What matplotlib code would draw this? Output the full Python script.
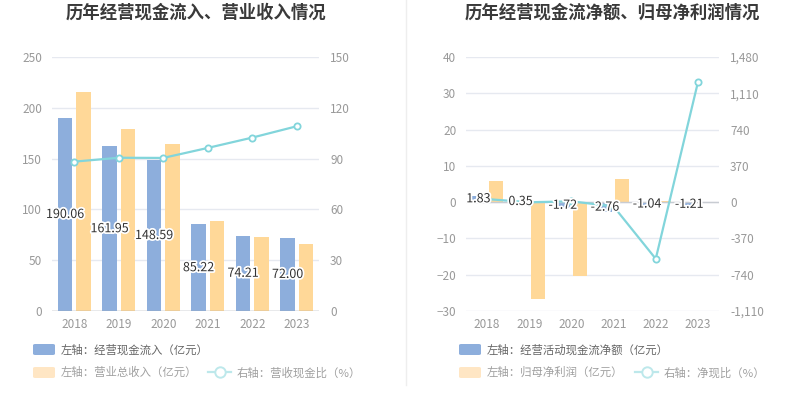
import matplotlib as mpl
mpl.use("Agg")
import matplotlib.pyplot as plt
import matplotlib.patheffects as pe
from matplotlib.patches import FancyBboxPatch
from matplotlib.lines import Line2D
from matplotlib.ticker import FuncFormatter
import numpy as np

plt.rcParams['font.family'] = ['Noto Sans CJK SC', 'DejaVu Sans']

years = ['2018', '2019', '2020', '2021', '2022', '2023']

# left chart
cash_inflow = [190.06, 161.95, 148.59, 85.22, 74.21, 72.00]
revenue = [215.5, 179.0, 164.3, 88.5, 72.5, 66.0]
cash_ratio = [88.2, 90.5, 90.4, 96.3, 102.4, 109.1]
cash_inflow_labels = ['190.06', '161.95', '148.59', '85.22', '74.21', '72.00']

# right chart
net_cash = [1.83, 0.35, -1.72, -2.76, -1.04, -1.21]
net_profit = [5.9, -26.8, -20.4, 6.35, 0.18, -0.10]
net_ratio = [31.0, -1.3, 8.4, -43.5, -578.0, 1222.0]
net_cash_labels = ['1.83', '0.35', '-1.72', '-2.76', '-1.04', '-1.21']

BLUE = "#8DAEDC"
ORANGE = "#FFD898"
ORANGE_LIGHT = "#FFE6C4"
CYAN = "#82D5DB"
GRID = "#E6E9F0"
TICK = "#999999"

W, H = 807, 415
fig = plt.figure(figsize=(W / 100, H / 100), dpi=100)


def fx(x):
    return x / W


def fy(y):
    return 1 - y / H


def style_axes(ax1, ax2, left_ticks, right_ticks, right_fmt=None):
    for ax in (ax1, ax2):
        for s in ax.spines.values():
            s.set_visible(False)
    ax1.set_yticks(left_ticks)
    ax1.set_ylim(left_ticks[0], left_ticks[-1])
    ax2.set_yticks(right_ticks)
    ax2.set_ylim(right_ticks[0], right_ticks[-1])
    if right_fmt:
        ax2.yaxis.set_major_formatter(right_fmt)
    ax1.grid(axis='y', color=GRID, linewidth=1)
    ax1.set_axisbelow(True)
    ax1.tick_params(axis='y', length=0, pad=7, labelsize=8.5, labelcolor=TICK)
    ax2.tick_params(axis='y', length=0, pad=8, labelsize=8.5, labelcolor=TICK)
    ax1.tick_params(axis='x', length=0, pad=5, labelsize=8.5, labelcolor=TICK)


def draw_chart(left_px, right_px, bars_a, bars_b, line, labels,
               left_ticks, right_ticks, right_fmt, title, title_x, zero_axis):
    ax1 = fig.add_axes([fx(left_px), fy(311), fx(right_px - left_px), (311 - 57) / H])
    ax2 = ax1.twinx()
    x = np.arange(len(years))
    w = 0.33
    off = 0.205
    ax1.bar(x - off, bars_a, w, color=BLUE, zorder=2)
    ax1.bar(x + off, bars_b, w, color=ORANGE, zorder=2)
    ax1.set_xlim(-0.5, len(years) - 0.5)
    ax1.set_xticks(x)
    ax1.set_xticklabels(years)
    ax1.axhline(0, color="#A0A4AA" if not zero_axis else "#C8CCD2", linewidth=1, zorder=3)
    ax2.plot(x, line, color=CYAN, linewidth=1.6, marker='o', markersize=4.5,
             markerfacecolor='white', markeredgecolor=CYAN, markeredgewidth=1.3, zorder=4)
    style_axes(ax1, ax2, left_ticks, right_ticks, right_fmt)
    for xi, v, s in zip(x, bars_a, labels):
        ax2.text(xi - off, v / 2, s, transform=ax1.transData, ha='center', va='center',
                 fontsize=9, color='#333333', zorder=6,
                 path_effects=[pe.withStroke(linewidth=2.5, foreground='white')])
    fig.text(fx(title_x), fy(13), title, ha='center', va='center', fontsize=12.5,
             fontweight='bold', color='#3A3A3A')
    return ax1, ax2


draw_chart(52, 319, cash_inflow, revenue, cash_ratio, cash_inflow_labels,
           [0, 50, 100, 150, 200, 250], [0, 30, 60, 90, 120, 150], None,
           '历年经营现金流入、营业收入情况', 196, False)

draw_chart(466, 719, net_cash, net_profit, net_ratio, net_cash_labels,
           [-30, -20, -10, 0, 10, 20, 30, 40],
           [-1110, -740, -370, 0, 370, 740, 1110, 1480],
           FuncFormatter(lambda v, p: f"{int(v):,}"),
           '历年经营现金流净额、归母净利润情况', 612, True)

# divider
fig.add_artist(Line2D([fx(406), fx(406)], [fy(0), fy(385)], color='#EEEEEE', linewidth=1))


def legend(patch_x, line_x, rows_text, line_text):
    # row 1 : blue bar
    fig.add_artist(FancyBboxPatch((fx(patch_x), fy(355)), fx(22), 11 / H,
                                  boxstyle="round,pad=0,rounding_size=0.003",
                                  facecolor=BLUE, edgecolor='none'))
    fig.text(fx(patch_x + 28), fy(349.5), rows_text[0], ha='left', va='center',
             fontsize=8.2, color='#666666')
    # row 2 : orange bar + line
    fig.add_artist(FancyBboxPatch((fx(patch_x), fy(378)), fx(22), 11 / H,
                                  boxstyle="round,pad=0,rounding_size=0.003",
                                  facecolor=ORANGE_LIGHT, edgecolor='none'))
    fig.text(fx(patch_x + 28), fy(372.5), rows_text[1], ha='left', va='center',
             fontsize=8.2, color='#A0A0A0')
    fig.add_artist(Line2D([fx(line_x), fx(line_x + 23)], [fy(372), fy(372)],
                          color='#BDE8EB', linewidth=1.6))
    fig.add_artist(Line2D([fx(line_x + 11.5)], [fy(372)], marker='o', markersize=7.5,
                          markerfacecolor='white', markeredgecolor='#BDE8EB',
                          markeredgewidth=1.4))
    fig.text(fx(line_x + 29), fy(372.5), line_text, ha='left', va='center',
             fontsize=8.2, color='#A0A0A0')


legend(33, 208, ['左轴：经营现金流入（亿元）', '左轴：营业总收入（亿元）'], '右轴：营收现金比（%）')
legend(459, 635, ['左轴：经营活动现金流净额（亿元）', '左轴：归母净利润（亿元）'], '右轴：净现比（%）')

fig.savefig("out.png", dpi=100, facecolor='white')
